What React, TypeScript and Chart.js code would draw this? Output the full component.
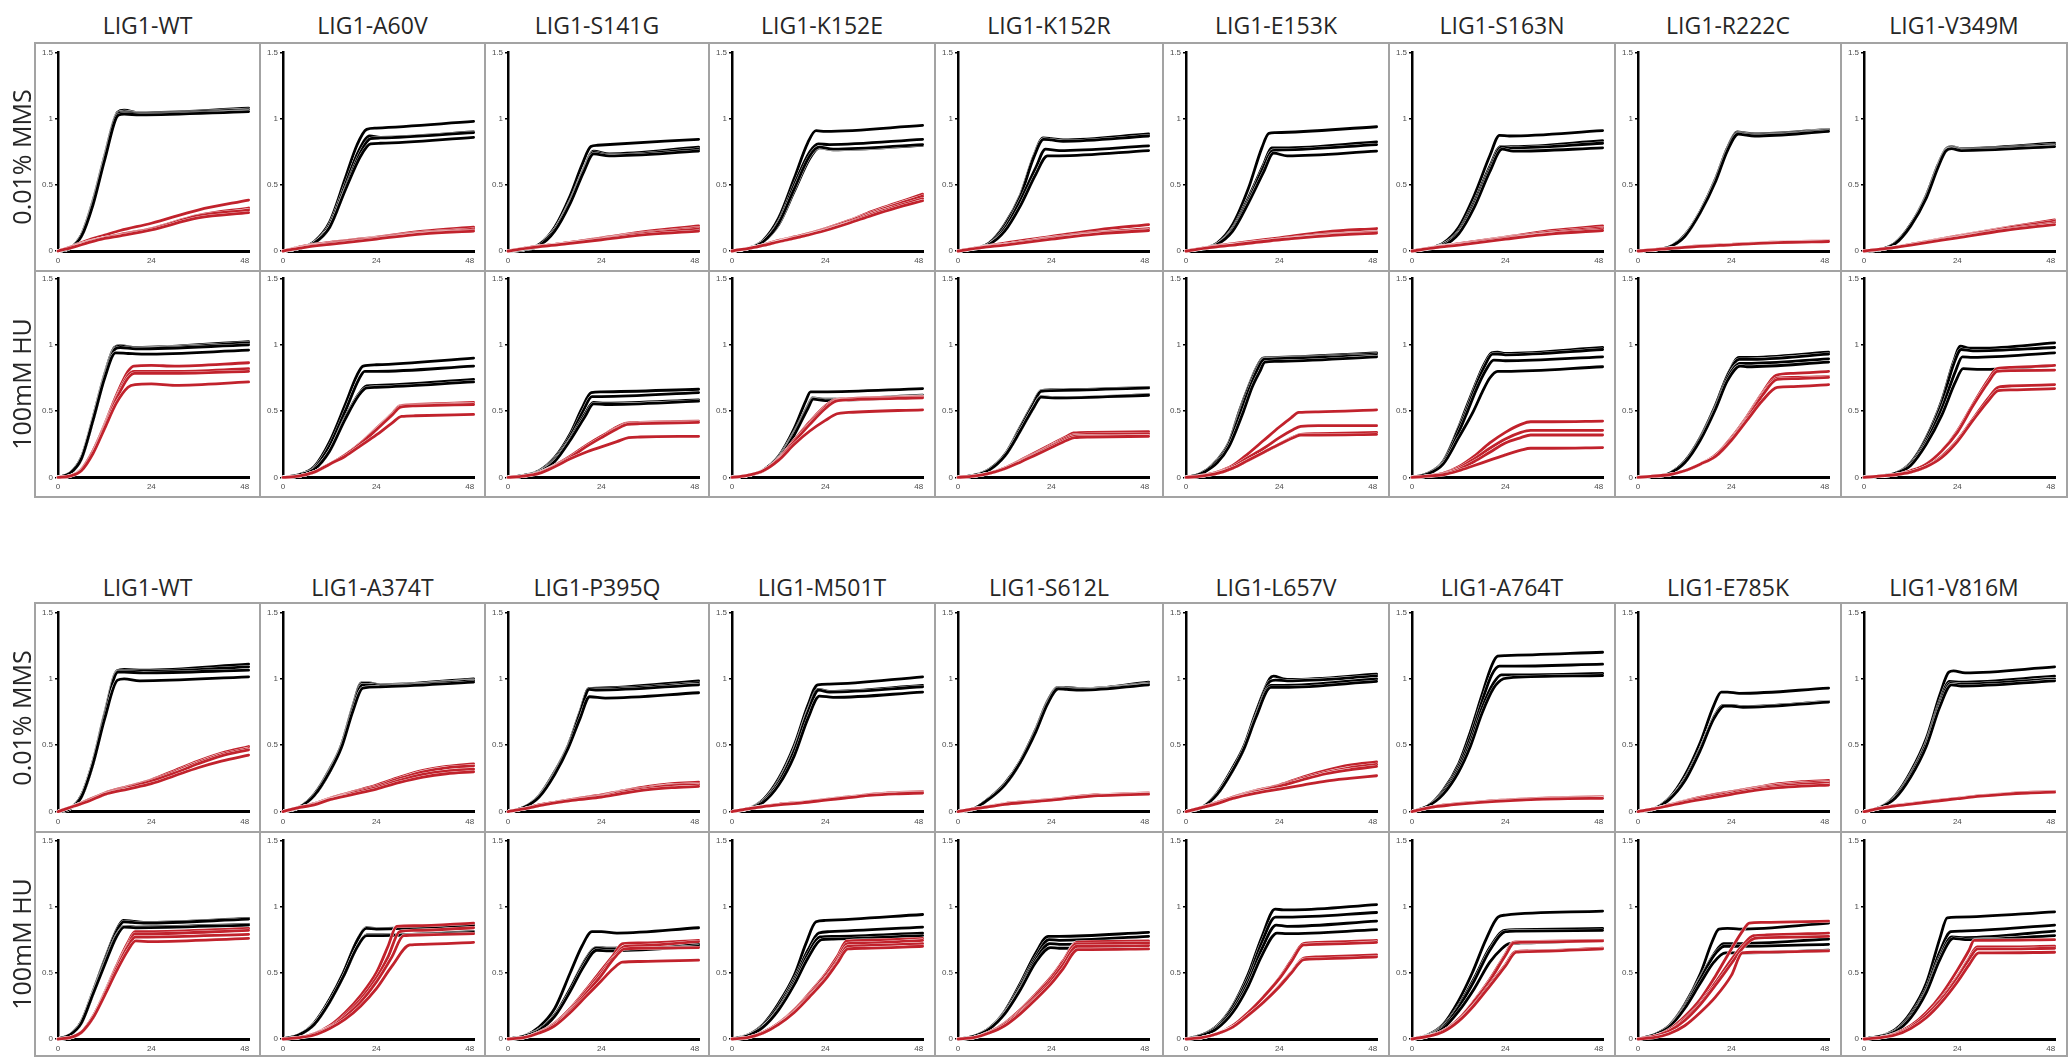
import React, { useEffect, useRef } from "react";
import { Chart, registerables } from "chart.js";

Chart.register(...registerables);

// ---------- axis / label data ----------
const X_TICKS = [0, 24, 48];
const Y_TICKS = [0, 0.5, 1, 1.5];
const X_MAX = 49.1;
const Y_MAX = 1.5;
const ROW_LABELS = ["0.01% MMS", "100mM HU"];
const TITLES_A = ["LIG1-WT", "LIG1-A60V", "LIG1-S141G", "LIG1-K152E", "LIG1-K152R", "LIG1-E153K", "LIG1-S163N", "LIG1-R222C", "LIG1-V349M"];
const TITLES_B = ["LIG1-WT", "LIG1-A374T", "LIG1-P395Q", "LIG1-M501T", "LIG1-S612L", "LIG1-L657V", "LIG1-A764T", "LIG1-E785K", "LIG1-V816M"];

// Each curve: flat list of (hour, OD) knots.
// ---------- Block A, 0.01% MMS ----------
const WT1_MMS_BLACK = [
  [0, 0, 3, .02, 6, .12, 9, .38, 12, .72, 15.3, 1.05, 17, 1.065, 21, 1.045, 49, 1.08],
  [0, 0, 3, .02, 6, .12, 9, .37, 12, .71, 15.4, 1.045, 17, 1.055, 21, 1.04, 49, 1.07],
  [0, 0, 3, .02, 6, .11, 9, .36, 12, .7, 15.5, 1.04, 17, 1.045, 21, 1.035, 49, 1.06],
  [0, 0, 3, .02, 6, .11, 9, .35, 12, .69, 15.6, 1.03, 17, 1.035, 21, 1.03, 49, 1.055],
];
const WT1_MMS_RED = [
  [0, 0, 4, .04, 8, .085, 12, .12, 16, .155, 24, .21, 36, .31, 49, .385],
  [0, 0, 4, .035, 8, .075, 12, .1, 16, .125, 24, .17, 36, .27, 49, .325],
  [0, 0, 4, .035, 8, .07, 12, .1, 16, .12, 24, .165, 36, .265, 49, .31],
  [0, 0, 4, .03, 8, .065, 12, .095, 16, .115, 24, .16, 36, .25, 49, .29],
];
const A60V_MMS_BLACK = [
  [0, 0, 4, .02, 8, .07, 12, .22, 16, .55, 19, .8, 21.5, .92, 24, .93, 49, .98],
  [0, 0, 4, .02, 8, .06, 12, .2, 16, .5, 19.5, .76, 22.3, .87, 25, .86, 49, .9],
  [0, 0, 4, .02, 8, .06, 12, .18, 16, .47, 20, .75, 22.5, .85, 25, .855, 49, .895],
  [0, 0, 4, .02, 8, .06, 12, .18, 16, .46, 20, .72, 22.5, .81, 25, .815, 49, .86],
];
const A60V_MMS_RED = [
  [0, 0, 6, .04, 12, .065, 24, .105, 36, .15, 49, .18],
  [0, 0, 6, .035, 12, .06, 24, .1, 36, .14, 49, .165],
  [0, 0, 6, .035, 12, .055, 24, .095, 36, .135, 49, .155],
  [0, 0, 6, .03, 12, .05, 24, .09, 36, .13, 49, .15],
];
const S141G_MMS_BLACK = [
  [0, 0, 4, .01, 8, .05, 12, .18, 16, .42, 19, .65, 21.3, .79, 23, .8, 49, .845],
  [0, 0, 4, .01, 8, .05, 12, .16, 16, .38, 19.5, .62, 22, .755, 26, .735, 49, .785],
  [0, 0, 4, .01, 8, .05, 12, .16, 16, .37, 19.5, .61, 22, .745, 26, .725, 49, .77],
  [0, 0, 4, .01, 8, .04, 12, .15, 16, .36, 19.5, .6, 22, .735, 26, .72, 49, .755],
];
const S141G_MMS_RED = [
  [0, 0, 6, .03, 12, .05, 24, .1, 36, .15, 49, .19],
  [0, 0, 6, .03, 12, .05, 24, .095, 36, .14, 49, .175],
  [0, 0, 6, .025, 12, .045, 24, .09, 36, .135, 49, .165],
  [0, 0, 6, .025, 12, .045, 24, .085, 36, .125, 49, .15],
];
const K152E_MMS_BLACK = [
  [0, 0, 4, .02, 8, .08, 12, .25, 16, .55, 19.5, .82, 21.6, .91, 24, .905, 49, .95],
  [0, 0, 4, .02, 8, .07, 12, .22, 16, .5, 20, .75, 22.2, .81, 25, .805, 49, .845],
  [0, 0, 4, .02, 8, .07, 12, .2, 16, .45, 20, .7, 22.5, .78, 26, .765, 49, .8],
  [0, 0, 4, .02, 8, .07, 12, .21, 16, .47, 20, .72, 22.4, .785, 26, .77, 49, .805],
];
const K152E_MMS_RED = [
  [0, 0, 6, .03, 12, .08, 18, .12, 24, .17, 30, .23, 36, .3, 42, .36, 49, .43],
  [0, 0, 6, .03, 12, .075, 18, .115, 24, .165, 30, .225, 36, .29, 42, .35, 49, .415],
  [0, 0, 6, .03, 12, .07, 18, .11, 24, .16, 30, .215, 36, .28, 42, .335, 49, .395],
  [0, 0, 6, .03, 12, .07, 18, .11, 24, .155, 30, .21, 36, .27, 42, .325, 49, .38],
];
const K152R_MMS_BLACK = [
  [0, 0, 4, .02, 8, .06, 12, .2, 16, .42, 19.5, .72, 21.9, .855, 24, .85, 27, .84, 49, .885],
  [0, 0, 4, .02, 8, .06, 12, .19, 16, .41, 19.5, .71, 22, .845, 24, .84, 27, .83, 49, .87],
  [0, 0, 4, .02, 8, .05, 12, .17, 16, .38, 20, .63, 22.5, .77, 26, .76, 49, .795],
  [0, 0, 4, .02, 8, .05, 12, .15, 16, .34, 20, .58, 23, .72, 26, .72, 49, .76],
];
const K152R_MMS_RED = [
  [0, 0, 6, .03, 12, .06, 24, .11, 36, .16, 49, .2],
  [0, 0, 6, .03, 12, .05, 24, .1, 36, .14, 49, .17],
  [0, 0, 6, .025, 12, .05, 24, .095, 36, .135, 49, .16],
  [0, 0, 6, .025, 12, .045, 24, .09, 36, .13, 49, .155],
];
const E153K_MMS_BLACK = [
  [0, 0, 4, .02, 8, .06, 12, .2, 16, .47, 19.5, .78, 21.3, .89, 23, .895, 49, .94],
  [0, 0, 4, .02, 8, .05, 12, .17, 16, .4, 20, .66, 22, .78, 25, .78, 49, .825],
  [0, 0, 4, .02, 8, .05, 12, .16, 16, .38, 20, .64, 22.2, .76, 25, .765, 49, .805],
  [0, 0, 4, .02, 8, .05, 12, .15, 16, .36, 20, .6, 22.5, .74, 26, .72, 49, .755],
];
const E153K_MMS_RED = [
  [0, 0, 6, .03, 12, .055, 24, .1, 36, .145, 49, .17],
  [0, 0, 6, .03, 12, .05, 24, .09, 36, .125, 49, .145],
  [0, 0, 6, .025, 12, .045, 24, .085, 36, .12, 49, .14],
  [0, 0, 6, .025, 12, .045, 24, .085, 36, .115, 49, .135],
];
const S163N_MMS_BLACK = [
  [0, 0, 4, .02, 8, .06, 12, .18, 16, .42, 20, .72, 22.5, .875, 25, .87, 49, .91],
  [0, 0, 4, .02, 8, .05, 12, .15, 16, .37, 20, .64, 22.8, .79, 26, .79, 49, .835],
  [0, 0, 4, .02, 8, .05, 12, .14, 16, .35, 20, .62, 23, .785, 26, .78, 49, .815],
  [0, 0, 4, .02, 8, .04, 12, .13, 16, .33, 20, .6, 23.2, .77, 26, .755, 49, .78],
];
const S163N_MMS_RED = [
  [0, 0, 6, .03, 12, .055, 24, .105, 36, .155, 49, .19],
  [0, 0, 6, .03, 12, .05, 24, .1, 36, .145, 49, .175],
  [0, 0, 6, .025, 12, .05, 24, .095, 36, .135, 49, .165],
  [0, 0, 6, .025, 12, .045, 24, .09, 36, .13, 49, .155],
];
const R222C_MMS_BLACK = [
  [0, 0, 4, .01, 8, .03, 12, .12, 16, .3, 20, .55, 23, .78, 25.6, .9, 27, .895, 30, .885, 49, .92],
  [0, 0, 4, .01, 8, .03, 12, .12, 16, .3, 20, .55, 23, .78, 25.6, .895, 27, .89, 30, .88, 49, .915],
  [0, 0, 4, .01, 8, .03, 12, .11, 16, .29, 20, .54, 23, .77, 25.7, .89, 27, .885, 30, .875, 49, .91],
  [0, 0, 4, .01, 8, .03, 12, .11, 16, .29, 20, .53, 23, .76, 25.8, .885, 27, .88, 30, .87, 49, .905],
];
const R222C_MMS_RED = [
  [0, 0, 6, .015, 12, .03, 24, .05, 36, .068, 49, .077],
  [0, 0, 6, .015, 12, .03, 24, .05, 36, .066, 49, .075],
  [0, 0, 6, .014, 12, .028, 24, .048, 36, .065, 49, .073],
  [0, 0, 6, .014, 12, .028, 24, .047, 36, .064, 49, .072],
];
const V349M_MMS_BLACK = [
  [0, 0, 4, .01, 8, .06, 12, .2, 16, .42, 19, .65, 21, .77, 22.5, .79, 25, .775, 49, .815],
  [0, 0, 4, .01, 8, .06, 12, .2, 16, .42, 19, .65, 21, .765, 22.5, .785, 25, .77, 49, .805],
  [0, 0, 4, .01, 8, .055, 12, .19, 16, .41, 19, .64, 21, .76, 22.5, .78, 25, .765, 49, .795],
  [0, 0, 4, .01, 8, .055, 12, .19, 16, .4, 19, .63, 21, .755, 22.5, .775, 25, .76, 49, .79],
];
const V349M_MMS_RED = [
  [0, 0, 6, .02, 12, .05, 24, .115, 36, .175, 49, .235],
  [0, 0, 6, .02, 12, .05, 24, .11, 36, .17, 49, .225],
  [0, 0, 6, .02, 12, .05, 24, .105, 36, .16, 49, .21],
  [0, 0, 6, .02, 12, .045, 24, .1, 36, .155, 49, .2],
];

// ---------- Block A, 100mM HU ----------
const WT1_HU_BLACK = [
  [0, 0, 3, .03, 6, .15, 9, .45, 12, .78, 14.5, .98, 16, .995, 20, .98, 49, 1.025],
  [0, 0, 3, .03, 6, .15, 9, .44, 12, .77, 14.6, .975, 16, .99, 20, .975, 49, 1.015],
  [0, 0, 3, .03, 6, .14, 9, .43, 12, .76, 14.7, .97, 16, .98, 20, .97, 49, 1.0],
  [0, 0, 3, .03, 6, .14, 9, .43, 12, .75, 14.8, .94, 18, .935, 22, .93, 49, .96],
];
const WT1_HU_RED = [
  [0, 0, 3, .01, 6, .06, 9, .2, 12, .4, 15, .62, 18, .8, 19.5, .84, 24, .845, 30, .84, 49, .865],
  [0, 0, 3, .01, 6, .06, 9, .2, 12, .39, 15, .6, 18, .77, 19.6, .8, 24, .8, 30, .8, 49, .82],
  [0, 0, 3, .01, 6, .055, 9, .19, 12, .38, 15, .59, 18, .75, 19.7, .785, 24, .785, 30, .785, 49, .8],
  [0, 0, 3, .01, 6, .05, 9, .18, 12, .37, 15, .56, 18, .68, 19.8, .7, 24, .705, 30, .695, 49, .72],
];
const A60V_HU_BLACK = [
  [0, 0, 4, .02, 8, .08, 12, .27, 16, .55, 19, .77, 20.6, .84, 24, .85, 49, .9],
  [0, 0, 4, .02, 8, .07, 12, .24, 16, .5, 19.5, .74, 21, .8, 24, .8, 49, .84],
  [0, 0, 4, .02, 8, .06, 12, .2, 16, .45, 19.5, .63, 21.5, .69, 24, .695, 49, .74],
  [0, 0, 4, .02, 8, .06, 12, .2, 16, .44, 19.5, .62, 21.5, .675, 24, .68, 49, .72],
];
const A60V_HU_RED = [
  [0, 0, 4, .01, 8, .04, 12, .1, 16, .17, 20, .26, 24, .37, 28, .48, 30, .54, 34, .55, 49, .565],
  [0, 0, 4, .01, 8, .04, 12, .1, 16, .17, 20, .26, 24, .365, 28, .475, 30, .535, 34, .545, 49, .555],
  [0, 0, 4, .01, 8, .04, 12, .1, 16, .17, 20, .255, 24, .36, 28, .47, 30.2, .53, 34, .54, 49, .55],
  [0, 0, 4, .01, 8, .04, 12, .1, 16, .16, 20, .24, 24, .32, 28, .41, 30.5, .46, 34, .465, 49, .475],
];
const S141G_HU_BLACK = [
  [0, 0, 4, .015, 8, .05, 12, .15, 16, .33, 19, .52, 21.4, .64, 24, .645, 49, .665],
  [0, 0, 4, .015, 8, .045, 12, .14, 16, .31, 19.3, .5, 21.6, .61, 24, .61, 49, .64],
  [0, 0, 4, .015, 8, .04, 12, .13, 16, .29, 19.6, .47, 22, .565, 25, .56, 49, .585],
  [0, 0, 4, .015, 8, .04, 12, .12, 16, .28, 19.8, .46, 22, .555, 25, .55, 49, .575],
];
const S141G_HU_RED = [
  [0, 0, 4, .01, 8, .035, 12, .09, 16, .16, 20, .24, 24, .31, 28, .38, 30.5, .41, 34, .415, 49, .425],
  [0, 0, 4, .01, 8, .035, 12, .09, 16, .16, 20, .24, 24, .31, 28, .37, 30.6, .405, 34, .41, 49, .42],
  [0, 0, 4, .01, 8, .035, 12, .085, 16, .15, 20, .23, 24, .3, 28, .365, 30.7, .4, 34, .405, 49, .415],
  [0, 0, 4, .01, 8, .03, 12, .08, 16, .14, 20, .19, 24, .23, 28, .27, 31, .3, 34, .305, 49, .31],
];
const K152E_HU_BLACK = [
  [0, 0, 4, .015, 8, .055, 12, .16, 16, .37, 19, .58, 20.2, .645, 23, .645, 49, .67],
  [0, 0, 4, .015, 8, .05, 12, .15, 16, .34, 19.5, .54, 20.7, .6, 24, .59, 49, .62],
  [0, 0, 4, .015, 8, .05, 12, .14, 16, .33, 19.5, .53, 20.8, .595, 24, .585, 49, .615],
  [0, 0, 4, .015, 8, .05, 12, .14, 16, .32, 19.5, .52, 20.9, .59, 24, .58, 49, .61],
];
const K152E_HU_RED = [
  [0, 0, 4, .015, 8, .05, 12, .14, 16, .28, 20, .42, 24, .54, 26.5, .585, 30, .595, 49, .61],
  [0, 0, 4, .015, 8, .05, 12, .14, 16, .28, 20, .41, 24, .53, 26.6, .58, 30, .59, 49, .605],
  [0, 0, 4, .015, 8, .05, 12, .135, 16, .27, 20, .4, 24, .52, 26.7, .575, 30, .585, 49, .6],
  [0, 0, 4, .015, 8, .05, 12, .13, 16, .25, 20, .35, 24, .43, 27, .48, 30, .49, 49, .51],
];
const K152R_HU_BLACK = [
  [0, 0, 4, .015, 8, .06, 12, .17, 16, .38, 19.5, .57, 21.3, .655, 24, .66, 49, .68],
  [0, 0, 4, .015, 8, .06, 12, .17, 16, .37, 19.5, .56, 21.3, .65, 24, .655, 49, .675],
  [0, 0, 4, .015, 8, .055, 12, .16, 16, .35, 19.5, .53, 21.3, .61, 25, .6, 49, .625],
  [0, 0, 4, .015, 8, .055, 12, .16, 16, .35, 19.5, .53, 21.4, .605, 25, .6, 49, .62],
];
const K152R_HU_RED = [
  [0, 0, 4, .01, 8, .03, 12, .07, 16, .13, 20, .19, 24, .25, 28, .31, 29.7, .335, 34, .34, 49, .345],
  [0, 0, 4, .01, 8, .03, 12, .07, 16, .125, 20, .18, 24, .24, 28, .3, 29.8, .32, 34, .325, 49, .33],
  [0, 0, 4, .01, 8, .03, 12, .065, 16, .12, 20, .175, 24, .235, 28, .29, 29.8, .31, 34, .31, 49, .315],
  [0, 0, 4, .01, 8, .03, 12, .065, 16, .115, 20, .17, 24, .225, 28, .28, 29.9, .3, 34, .305, 49, .31],
];
const E153K_HU_BLACK = [
  [0, 0, 3, .02, 5, .05, 8, .13, 11, .26, 13.7, .5, 16, .68, 18, .82, 19.8, .9, 22, .905, 49, .94],
  [0, 0, 3, .02, 5, .05, 8, .13, 11, .26, 13.8, .49, 16, .67, 18, .81, 19.9, .895, 22, .9, 49, .93],
  [0, 0, 3, .02, 5, .05, 8, .12, 11, .25, 14, .49, 16.3, .67, 18.3, .81, 20, .89, 22, .895, 49, .92],
  [0, 0, 3, .02, 5, .045, 8, .11, 11, .23, 14.8, .5, 17, .68, 19, .8, 20.3, .87, 23, .875, 49, .91],
];
const E153K_HU_RED = [
  [0, 0, 4, .015, 8, .04, 12, .09, 16, .18, 20, .28, 24, .38, 27, .45, 29, .49, 34, .495, 49, .51],
  [0, 0, 4, .01, 8, .035, 12, .08, 16, .15, 20, .22, 24, .3, 27.5, .36, 29.5, .385, 34, .39, 49, .39],
  [0, 0, 4, .01, 8, .03, 12, .07, 16, .13, 20, .19, 24, .25, 28, .31, 29.5, .325, 34, .33, 49, .34],
  [0, 0, 4, .01, 8, .03, 12, .07, 16, .13, 20, .19, 24, .25, 28, .305, 29.5, .32, 34, .32, 49, .325],
];
const S163N_HU_BLACK = [
  [0, 0, 4, .03, 8, .12, 12, .38, 13.6, .5, 16, .68, 18.5, .85, 20.5, .94, 22, .945, 24, .935, 49, .98],
  [0, 0, 4, .03, 8, .12, 12, .37, 13.8, .49, 16, .66, 18.5, .83, 20.7, .93, 22, .93, 24, .925, 49, .965],
  [0, 0, 4, .03, 8, .11, 12, .34, 14.3, .5, 16.5, .66, 19, .81, 21, .885, 24, .88, 49, .91],
  [0, 0, 4, .025, 8, .1, 12, .3, 15.8, .5, 18, .64, 20, .75, 22, .8, 24, .8, 49, .835],
];
const S163N_HU_RED = [
  [0, 0, 4, .01, 8, .03, 12, .08, 16, .16, 20, .26, 24, .34, 28, .4, 30.5, .42, 36, .42, 49, .425],
  [0, 0, 4, .01, 8, .03, 12, .07, 16, .14, 20, .22, 24, .29, 28, .34, 30.5, .355, 36, .355, 49, .355],
  [0, 0, 4, .01, 8, .025, 12, .06, 16, .12, 20, .19, 24, .26, 28, .3, 30.5, .32, 36, .32, 49, .32],
  [0, 0, 4, .01, 8, .02, 12, .05, 16, .09, 20, .13, 24, .17, 28, .205, 30.5, .22, 36, .22, 49, .225],
];
const R222C_HU_BLACK = [
  [0, 0, 4, .01, 8, .03, 12, .12, 16, .3, 20, .55, 23, .77, 26, .905, 28, .905, 49, .945],
  [0, 0, 4, .01, 8, .03, 12, .12, 16, .3, 20, .55, 23, .77, 26, .89, 28, .89, 49, .93],
  [0, 0, 4, .01, 8, .03, 12, .11, 16, .29, 20, .53, 23, .75, 26.2, .86, 28, .86, 49, .895],
  [0, 0, 4, .01, 8, .03, 12, .11, 16, .28, 20, .52, 23, .73, 26.3, .84, 28, .835, 49, .87],
];
const R222C_HU_RED = [
  [0, 0, 4, .01, 8, .02, 12, .05, 16, .1, 20, .17, 24, .3, 28, .46, 32, .64, 35.5, .77, 40, .785, 49, .8],
  [0, 0, 4, .01, 8, .02, 12, .05, 16, .1, 20, .17, 24, .29, 28, .45, 32, .63, 35.8, .75, 40, .755, 49, .76],
  [0, 0, 4, .01, 8, .02, 12, .05, 16, .1, 20, .16, 24, .28, 28, .44, 32, .62, 35.8, .74, 40, .745, 49, .755],
  [0, 0, 4, .01, 8, .02, 12, .05, 16, .1, 20, .16, 24, .28, 28, .43, 32, .58, 35.8, .68, 40, .685, 49, .7],
];
const V349M_HU_BLACK = [
  [0, 0, 4, .01, 8, .03, 12, .11, 16, .3, 20, .58, 23, .87, 24.8, .99, 27, .975, 30, .975, 49, 1.015],
  [0, 0, 4, .01, 8, .03, 12, .11, 16, .29, 20, .56, 23, .85, 25, .965, 28, .955, 49, .98],
  [0, 0, 4, .01, 8, .03, 12, .1, 16, .27, 20, .52, 23.5, .8, 25.3, .91, 28, .905, 49, .94],
  [0, 0, 4, .01, 8, .03, 12, .09, 16, .25, 20, .47, 23.5, .72, 25.5, .82, 30, .815, 49, .845],
];
const V349M_HU_RED = [
  [0, 0, 4, .01, 8, .02, 12, .05, 16, .1, 20, .2, 24, .35, 28, .55, 32, .74, 34.2, .82, 38, .83, 49, .845],
  [0, 0, 4, .01, 8, .02, 12, .05, 16, .1, 20, .2, 24, .34, 28, .54, 32, .72, 34.2, .8, 38, .805, 49, .81],
  [0, 0, 4, .01, 8, .02, 12, .04, 16, .08, 20, .16, 24, .28, 28, .44, 32, .6, 34.5, .68, 38, .69, 49, .7],
  [0, 0, 4, .01, 8, .02, 12, .04, 16, .08, 20, .15, 24, .27, 28, .43, 32, .58, 34.5, .655, 38, .66, 49, .67],
];

// ---------- Block B, 0.01% MMS ----------
const WT2_MMS_BLACK = [
  [0, 0, 3, .02, 6, .12, 9, .38, 12, .74, 15.2, 1.06, 17, 1.07, 22, 1.065, 49, 1.11],
  [0, 0, 3, .02, 6, .12, 9, .37, 12, .73, 15.3, 1.055, 17, 1.06, 22, 1.055, 49, 1.09],
  [0, 0, 3, .02, 6, .11, 9, .36, 12, .72, 15.4, 1.05, 17, 1.05, 22, 1.045, 49, 1.065],
  [0, 0, 3, .02, 6, .11, 9, .36, 12, .7, 15.3, .99, 17, 1.0, 21, .985, 49, 1.015],
];
const WT2_MMS_RED = [
  [0, 0, 4, .04, 8, .09, 12, .14, 18, .19, 24, .24, 30, .31, 36, .38, 42, .44, 49, .49],
  [0, 0, 4, .04, 8, .09, 12, .135, 18, .185, 24, .235, 30, .3, 36, .37, 42, .43, 49, .475],
  [0, 0, 4, .04, 8, .085, 12, .13, 18, .18, 24, .23, 30, .29, 36, .36, 42, .42, 49, .465],
  [0, 0, 4, .04, 8, .08, 12, .13, 18, .17, 24, .21, 30, .27, 36, .33, 42, .38, 49, .425],
];
const A374T_MMS_BLACK = [
  [0, 0, 4, .03, 8, .13, 12, .32, 15, .5, 18, .8, 20.2, .97, 22, .97, 25, .955, 49, 1.0],
  [0, 0, 4, .03, 8, .13, 12, .31, 15, .5, 18, .79, 20.3, .965, 22, .965, 25, .95, 49, .99],
  [0, 0, 4, .03, 8, .12, 12, .3, 15, .49, 18, .78, 20.4, .955, 22, .955, 25, .945, 49, .985],
  [0, 0, 4, .03, 8, .12, 12, .3, 15, .48, 18, .76, 20.5, .93, 25, .94, 49, .975],
];
const A374T_MMS_RED = [
  [0, 0, 4, .03, 8, .06, 12, .1, 18, .15, 24, .2, 30, .26, 36, .31, 42, .34, 49, .36],
  [0, 0, 4, .03, 8, .055, 12, .095, 18, .145, 24, .19, 30, .25, 36, .3, 42, .33, 49, .345],
  [0, 0, 4, .03, 8, .055, 12, .09, 18, .14, 24, .18, 30, .235, 36, .28, 42, .305, 49, .32],
  [0, 0, 4, .03, 8, .05, 12, .09, 18, .13, 24, .17, 30, .22, 36, .26, 42, .285, 49, .3],
];
const P395Q_MMS_BLACK = [
  [0, 0, 4, .03, 8, .12, 12, .3, 15.5, .5, 18.5, .75, 20.8, .925, 23, .93, 49, .985],
  [0, 0, 4, .03, 8, .12, 12, .3, 15.5, .5, 18.5, .75, 20.8, .925, 23, .925, 49, .965],
  [0, 0, 4, .03, 8, .115, 12, .29, 15.5, .49, 18.5, .74, 20.9, .92, 23, .915, 49, .955],
  [0, 0, 4, .03, 8, .11, 12, .28, 15.5, .48, 18.5, .7, 21, .865, 25, .855, 49, .895],
];
const P395Q_MMS_RED = [
  [0, 0, 4, .02, 8, .05, 12, .07, 18, .1, 24, .125, 30, .16, 36, .19, 42, .21, 49, .222],
  [0, 0, 4, .02, 8, .05, 12, .07, 18, .095, 24, .12, 30, .155, 36, .18, 42, .2, 49, .21],
  [0, 0, 4, .02, 8, .045, 12, .065, 18, .09, 24, .115, 30, .15, 36, .175, 42, .195, 49, .2],
  [0, 0, 4, .02, 8, .045, 12, .065, 18, .09, 24, .11, 30, .14, 36, .165, 42, .18, 49, .19],
];
const M501T_MMS_BLACK = [
  [0, 0, 4, .02, 8, .09, 12, .25, 16, .5, 19.5, .8, 22, .955, 25, .96, 49, 1.015],
  [0, 0, 4, .02, 8, .08, 12, .23, 16, .47, 19.5, .76, 22.2, .92, 25, .905, 49, .95],
  [0, 0, 4, .02, 8, .08, 12, .22, 16, .46, 19.5, .75, 22.3, .915, 25, .9, 49, .94],
  [0, 0, 4, .02, 8, .07, 12, .2, 16, .42, 19.5, .7, 22.5, .87, 26, .86, 49, .9],
];
const M501T_MMS_RED = [
  [0, 0, 4, .02, 8, .04, 12, .055, 18, .072, 24, .092, 30, .112, 36, .132, 42, .143, 49, .15],
  [0, 0, 4, .02, 8, .04, 12, .055, 18, .07, 24, .09, 30, .11, 36, .13, 42, .14, 49, .145],
  [0, 0, 4, .02, 8, .038, 12, .052, 18, .068, 24, .088, 30, .108, 36, .127, 42, .137, 49, .142],
  [0, 0, 4, .02, 8, .037, 12, .05, 18, .066, 24, .086, 30, .105, 36, .124, 42, .134, 49, .14],
];
const S612L_MMS_BLACK = [
  [0, 0, 4, .02, 8, .1, 12, .21, 16, .38, 20, .62, 23, .83, 25.7, .935, 28, .935, 32, .925, 49, .975],
  [0, 0, 4, .02, 8, .1, 12, .21, 16, .38, 20, .62, 23, .83, 25.7, .93, 28, .93, 32, .92, 49, .965],
  [0, 0, 4, .02, 8, .095, 12, .2, 16, .37, 20, .61, 23, .82, 25.8, .93, 28, .925, 32, .92, 49, .96],
  [0, 0, 4, .02, 8, .095, 12, .2, 16, .37, 20, .6, 23, .81, 25.8, .925, 28, .92, 32, .915, 49, .955],
];
const S612L_MMS_RED = [
  [0, 0, 4, .02, 8, .04, 12, .06, 18, .077, 24, .092, 30, .112, 36, .127, 42, .133, 49, .14],
  [0, 0, 4, .02, 8, .04, 12, .06, 18, .075, 24, .09, 30, .11, 36, .125, 42, .13, 49, .137],
  [0, 0, 4, .02, 8, .038, 12, .057, 18, .073, 24, .088, 30, .107, 36, .122, 42, .128, 49, .134],
  [0, 0, 4, .02, 8, .037, 12, .055, 18, .071, 24, .086, 30, .105, 36, .12, 42, .126, 49, .131],
];
const L657V_MMS_BLACK = [
  [0, 0, 4, .03, 8, .14, 12, .33, 15, .5, 18, .75, 21.5, 1.0, 22.5, 1.02, 25, 1.0, 27, .995, 49, 1.035],
  [0, 0, 4, .03, 8, .14, 12, .33, 15, .5, 18, .75, 21.6, .98, 23, .99, 26, .985, 49, 1.02],
  [0, 0, 4, .03, 8, .13, 12, .31, 15, .48, 18, .72, 21.8, .95, 25, .95, 49, 1.0],
  [0, 0, 4, .03, 8, .13, 12, .31, 15, .48, 18, .71, 21.8, .935, 25, .935, 49, .98],
];
const L657V_MMS_RED = [
  [0, 0, 4, .03, 8, .07, 12, .11, 18, .16, 24, .2, 30, .26, 36, .31, 42, .35, 49, .375],
  [0, 0, 4, .03, 8, .07, 12, .105, 18, .155, 24, .195, 30, .25, 36, .295, 42, .33, 49, .355],
  [0, 0, 4, .03, 8, .065, 12, .1, 18, .15, 24, .19, 30, .24, 36, .285, 42, .315, 49, .34],
  [0, 0, 4, .03, 8, .06, 12, .1, 18, .14, 24, .17, 30, .2, 36, .23, 42, .25, 49, .27],
];
const A764T_MMS_BLACK = [
  [0, 0, 4, .04, 8, .16, 12, .36, 15, .6, 18, .88, 20.5, 1.1, 22, 1.17, 24, 1.175, 49, 1.2],
  [0, 0, 4, .04, 8, .15, 12, .34, 15, .56, 18, .83, 20.5, 1.03, 22.5, 1.095, 25, 1.095, 49, 1.11],
  [0, 0, 4, .04, 8, .14, 12, .32, 15, .52, 18, .78, 21, .97, 23, 1.03, 26, 1.03, 49, 1.04],
  [0, 0, 4, .04, 8, .13, 12, .3, 15, .49, 18, .74, 21, .93, 23.5, 1.0, 26, 1.01, 49, 1.025],
];
const A764T_MMS_RED = [
  [0, 0, 3, .02, 6, .04, 10, .055, 16, .07, 24, .088, 32, .1, 40, .107, 49, .112],
  [0, 0, 3, .02, 6, .04, 10, .055, 16, .07, 24, .085, 32, .098, 40, .104, 49, .108],
  [0, 0, 3, .02, 6, .038, 10, .052, 16, .067, 24, .083, 32, .095, 40, .101, 49, .104],
  [0, 0, 3, .02, 6, .037, 10, .05, 16, .065, 24, .08, 32, .092, 40, .098, 49, .1],
];
const E785K_MMS_BLACK = [
  [0, 0, 4, .02, 8, .1, 12, .27, 16, .52, 19.5, .8, 21.4, .9, 23, .9, 26, .89, 49, .93],
  [0, 0, 4, .02, 8, .09, 12, .24, 16, .47, 19.5, .71, 22, .8, 24, .8, 27, .79, 49, .83],
  [0, 0, 4, .02, 8, .09, 12, .24, 16, .47, 19.5, .71, 22, .8, 24, .8, 27, .79, 49, .828],
  [0, 0, 4, .02, 8, .09, 12, .23, 16, .46, 19.5, .7, 22.2, .795, 24, .795, 27, .785, 49, .825],
];
const E785K_MMS_RED = [
  [0, 0, 4, .02, 8, .05, 12, .08, 18, .12, 24, .15, 30, .18, 36, .21, 42, .225, 49, .235],
  [0, 0, 4, .02, 8, .05, 12, .078, 18, .115, 24, .145, 30, .175, 36, .2, 42, .215, 49, .225],
  [0, 0, 4, .02, 8, .048, 12, .075, 18, .11, 24, .14, 30, .17, 36, .19, 42, .205, 49, .215],
  [0, 0, 4, .02, 8, .045, 12, .07, 18, .1, 24, .13, 30, .16, 36, .18, 42, .192, 49, .2],
];
const V816M_MMS_BLACK = [
  [0, 0, 4, .03, 8, .12, 12, .3, 16, .55, 19.5, .88, 21.8, 1.05, 23, 1.06, 26, 1.045, 49, 1.09],
  [0, 0, 4, .03, 8, .11, 12, .28, 16, .52, 19.5, .83, 22, .98, 25, .975, 49, 1.02],
  [0, 0, 4, .03, 8, .11, 12, .27, 16, .51, 19.5, .81, 22.2, .965, 25, .96, 49, 1.0],
  [0, 0, 4, .03, 8, .1, 12, .26, 16, .49, 19.5, .79, 22.5, .955, 25, .945, 49, .985],
];
const V816M_MMS_RED = [
  [0, 0, 4, .025, 8, .045, 12, .06, 18, .08, 24, .1, 30, .12, 36, .135, 42, .145, 49, .152],
  [0, 0, 4, .025, 8, .045, 12, .06, 18, .08, 24, .1, 30, .12, 36, .134, 42, .144, 49, .15],
  [0, 0, 4, .024, 8, .044, 12, .058, 18, .078, 24, .098, 30, .118, 36, .132, 42, .142, 49, .148],
  [0, 0, 4, .024, 8, .043, 12, .057, 18, .077, 24, .097, 30, .116, 36, .13, 42, .14, 49, .146],
];

// ---------- Block B, 100mM HU ----------
const WT2_HU_BLACK = [
  [0, 0, 3, .03, 6, .13, 9, .36, 12, .6, 15, .82, 16.8, .895, 19, .89, 22, .88, 49, .91],
  [0, 0, 3, .03, 6, .13, 9, .35, 12, .59, 15, .81, 16.9, .885, 19, .88, 22, .875, 49, .905],
  [0, 0, 3, .03, 6, .12, 9, .34, 12, .57, 15, .78, 17, .85, 20, .845, 49, .865],
  [0, 0, 3, .03, 6, .12, 9, .34, 12, .56, 15, .77, 17, .845, 20, .84, 49, .86],
];
const WT2_HU_RED = [
  [0, 0, 3, .01, 6, .05, 9, .17, 12, .35, 15, .55, 18, .73, 19.8, .81, 23, .81, 49, .835],
  [0, 0, 3, .01, 6, .05, 9, .17, 12, .34, 15, .54, 18, .71, 19.8, .795, 23, .795, 49, .82],
  [0, 0, 3, .01, 6, .05, 9, .16, 12, .34, 15, .53, 18, .7, 19.9, .77, 23, .77, 49, .79],
  [0, 0, 3, .01, 6, .05, 9, .16, 12, .33, 15, .51, 18, .67, 20, .74, 24, .735, 49, .76],
];
const A374T_HU_BLACK = [
  [0, 0, 4, .03, 8, .12, 12, .3, 15.5, .5, 19, .74, 21.4, .84, 24, .835, 49, .865],
  [0, 0, 4, .03, 8, .12, 12, .3, 15.5, .5, 19, .74, 21.4, .835, 24, .83, 49, .86],
  [0, 0, 4, .03, 8, .11, 12, .28, 15.5, .47, 19, .69, 21.5, .785, 24, .785, 49, .81],
  [0, 0, 4, .03, 8, .11, 12, .28, 15.5, .47, 19, .69, 21.5, .78, 24, .78, 49, .805],
];
const A374T_HU_RED = [
  [0, 0, 4, .01, 8, .04, 12, .1, 16, .2, 20, .33, 24, .5, 27, .7, 29.2, .85, 34, .855, 49, .875],
  [0, 0, 4, .01, 8, .04, 12, .09, 16, .18, 20, .3, 24, .46, 27, .62, 30, .81, 34, .82, 49, .84],
  [0, 0, 4, .01, 8, .035, 12, .085, 16, .17, 20, .28, 24, .43, 28, .62, 31, .78, 35, .785, 49, .795],
  [0, 0, 4, .01, 8, .03, 12, .08, 16, .15, 20, .25, 24, .38, 28, .55, 32.6, .71, 36, .715, 49, .73],
];
const P395Q_HU_BLACK = [
  [0, 0, 4, .02, 8, .09, 12, .23, 16, .5, 19, .7, 21.6, .81, 24, .81, 28, .8, 49, .84],
  [0, 0, 4, .02, 8, .07, 12, .18, 16, .38, 19.5, .58, 22.7, .69, 26, .685, 49, .72],
  [0, 0, 4, .02, 8, .07, 12, .18, 16, .38, 19.5, .57, 22.7, .685, 26, .68, 49, .715],
  [0, 0, 4, .02, 8, .065, 12, .17, 16, .36, 19.5, .55, 22.8, .67, 26, .665, 49, .7],
];
const P395Q_HU_RED = [
  [0, 0, 4, .01, 8, .05, 12, .12, 16, .23, 20, .37, 24, .52, 27, .63, 29.5, .72, 34, .725, 49, .745],
  [0, 0, 4, .01, 8, .05, 12, .115, 16, .22, 20, .36, 24, .5, 27, .61, 30, .7, 34, .705, 49, .735],
  [0, 0, 4, .01, 8, .045, 12, .11, 16, .21, 20, .34, 24, .48, 27, .6, 30, .68, 34, .685, 49, .69],
  [0, 0, 4, .01, 8, .045, 12, .1, 16, .2, 20, .32, 24, .44, 27, .53, 29.4, .58, 34, .585, 49, .595],
];
const M501T_HU_BLACK = [
  [0, 0, 4, .03, 8, .11, 12, .27, 16, .48, 19, .72, 21.6, .885, 24, .895, 49, .94],
  [0, 0, 4, .03, 8, .1, 12, .25, 16, .45, 19.5, .67, 22.3, .8, 25, .81, 49, .845],
  [0, 0, 4, .025, 8, .09, 12, .23, 16, .43, 19.5, .64, 22.6, .77, 26, .775, 49, .8],
  [0, 0, 4, .025, 8, .09, 12, .22, 16, .41, 19.5, .61, 23, .75, 26, .755, 49, .78],
];
const M501T_HU_RED = [
  [0, 0, 4, .01, 8, .05, 12, .12, 16, .22, 20, .35, 24, .49, 27, .62, 29.5, .74, 34, .745, 49, .76],
  [0, 0, 4, .01, 8, .05, 12, .115, 16, .215, 20, .34, 24, .48, 27, .6, 29.6, .72, 34, .725, 49, .745],
  [0, 0, 4, .01, 8, .045, 12, .11, 16, .205, 20, .33, 24, .46, 27, .58, 29.7, .7, 34, .705, 49, .72],
  [0, 0, 4, .01, 8, .045, 12, .11, 16, .2, 20, .32, 24, .45, 27, .57, 29.8, .68, 34, .685, 49, .7],
];
const S612L_HU_BLACK = [
  [0, 0, 4, .02, 8, .08, 12, .21, 16, .42, 20, .65, 23.2, .775, 26, .775, 49, .805],
  [0, 0, 4, .02, 8, .08, 12, .2, 16, .4, 20, .62, 23.4, .75, 26, .745, 49, .775],
  [0, 0, 4, .02, 8, .075, 12, .19, 16, .38, 20, .6, 23.6, .72, 26, .715, 49, .73],
  [0, 0, 4, .02, 8, .075, 12, .19, 16, .37, 20, .58, 23.8, .69, 26, .685, 49, .71],
];
const S612L_HU_RED = [
  [0, 0, 4, .01, 8, .05, 12, .12, 16, .22, 20, .34, 24, .47, 27, .59, 30.4, .73, 34, .735, 49, .74],
  [0, 0, 4, .01, 8, .05, 12, .115, 16, .21, 20, .33, 24, .46, 27, .58, 30.5, .72, 34, .72, 49, .725],
  [0, 0, 4, .01, 8, .045, 12, .11, 16, .2, 20, .31, 24, .44, 27, .56, 30.6, .7, 34, .7, 49, .705],
  [0, 0, 4, .01, 8, .045, 12, .1, 16, .19, 20, .3, 24, .42, 27, .53, 30.8, .675, 34, .675, 49, .68],
];
const L657V_HU_BLACK = [
  [0, 0, 4, .03, 8, .1, 12, .25, 16, .49, 19.5, .77, 22.9, .98, 25, .975, 28, .975, 49, 1.015],
  [0, 0, 4, .03, 8, .09, 12, .24, 16, .46, 19.5, .73, 23, .92, 26, .92, 49, .955],
  [0, 0, 4, .03, 8, .09, 12, .22, 16, .43, 19.5, .68, 23.2, .86, 26, .85, 49, .89],
  [0, 0, 4, .025, 8, .08, 12, .2, 16, .4, 19.5, .63, 23.4, .8, 26, .795, 49, .825],
];
const L657V_HU_RED = [
  [0, 0, 4, .01, 8, .04, 12, .1, 16, .2, 20, .32, 24, .46, 27, .59, 30.2, .72, 34, .73, 49, .745],
  [0, 0, 4, .01, 8, .04, 12, .1, 16, .2, 20, .32, 24, .455, 27, .58, 30.2, .71, 34, .715, 49, .73],
  [0, 0, 4, .01, 8, .04, 12, .09, 16, .18, 20, .28, 24, .4, 27, .5, 30.3, .61, 34, .62, 49, .635],
  [0, 0, 4, .01, 8, .04, 12, .09, 16, .18, 20, .28, 24, .395, 27, .495, 30.3, .6, 34, .605, 49, .62],
];
const A764T_HU_BLACK = [
  [0, 0, 4, .03, 8, .11, 12, .29, 15.5, .5, 19, .75, 22.1, .92, 24, .935, 49, .965],
  [0, 0, 4, .025, 8, .1, 12, .25, 16, .46, 20, .69, 23.8, .82, 27, .825, 49, .835],
  [0, 0, 4, .025, 8, .09, 12, .24, 16, .44, 20, .67, 24, .81, 27, .815, 49, .82],
  [0, 0, 4, .02, 8, .08, 12, .21, 16, .38, 20, .58, 23, .68, 25, .72, 28, .725, 49, .745],
];
const A764T_HU_RED = [
  [0, 0, 4, .02, 8, .06, 12, .15, 16, .29, 20, .45, 24, .64, 26, .73, 28, .735, 49, .745],
  [0, 0, 4, .02, 8, .06, 12, .15, 16, .285, 20, .44, 24, .63, 26.2, .725, 28, .73, 49, .74],
  [0, 0, 4, .02, 8, .06, 12, .14, 16, .26, 20, .41, 24, .56, 26.6, .66, 30, .665, 49, .685],
  [0, 0, 4, .02, 8, .055, 12, .135, 16, .255, 20, .4, 24, .55, 26.8, .655, 30, .66, 49, .68],
];
const E785K_HU_BLACK = [
  [0, 0, 4, .03, 8, .1, 12, .26, 16, .49, 19, .73, 20.8, .83, 23, .835, 26, .83, 49, .875],
  [0, 0, 4, .03, 8, .1, 12, .25, 16, .46, 19.5, .64, 22, .72, 25, .72, 49, .755],
  [0, 0, 4, .03, 8, .095, 12, .24, 16, .45, 19.5, .63, 22.2, .7, 25, .7, 49, .715],
  [0, 0, 4, .03, 8, .09, 12, .23, 16, .42, 19.5, .58, 22.5, .65, 25, .65, 49, .67],
];
const E785K_HU_RED = [
  [0, 0, 4, .02, 8, .07, 12, .17, 16, .3, 20, .48, 24, .68, 27, .82, 28.6, .875, 32, .88, 49, .89],
  [0, 0, 4, .02, 8, .06, 12, .15, 16, .27, 20, .43, 24, .6, 27, .71, 29.7, .78, 33, .785, 49, .8],
  [0, 0, 4, .02, 8, .06, 12, .14, 16, .26, 20, .41, 24, .57, 27, .69, 30, .76, 33, .765, 49, .775],
  [0, 0, 4, .01, 8, .04, 12, .1, 16, .2, 20, .32, 24, .48, 26.8, .65, 30, .655, 49, .665],
];
const V816M_HU_BLACK = [
  [0, 0, 4, .02, 8, .07, 12, .2, 16, .42, 19.5, .76, 21.4, .915, 24, .92, 49, .96],
  [0, 0, 4, .02, 8, .06, 12, .18, 16, .38, 19.5, .66, 22.3, .81, 25, .815, 49, .86],
  [0, 0, 4, .02, 8, .06, 12, .17, 16, .36, 19.5, .62, 22.6, .77, 26, .765, 49, .815],
  [0, 0, 4, .02, 8, .055, 12, .16, 16, .35, 19.5, .6, 23, .76, 26, .75, 49, .78],
];
const V816M_HU_RED = [
  [0, 0, 4, .01, 8, .04, 12, .1, 16, .2, 20, .34, 24, .52, 27, .67, 28.3, .745, 32, .745, 49, .75],
  [0, 0, 4, .01, 8, .035, 12, .09, 16, .18, 20, .31, 24, .47, 27, .61, 29.1, .695, 33, .695, 49, .7],
  [0, 0, 4, .01, 8, .035, 12, .09, 16, .18, 20, .3, 24, .46, 27, .6, 29.2, .68, 33, .68, 49, .685],
  [0, 0, 4, .01, 8, .03, 12, .08, 16, .16, 20, .28, 24, .43, 27, .56, 29.5, .65, 33, .65, 49, .655],
];

// ---------- panel grids ----------
const BLOCK_A_MMS = [
  [WT1_MMS_BLACK, WT1_MMS_RED], [A60V_MMS_BLACK, A60V_MMS_RED], [S141G_MMS_BLACK, S141G_MMS_RED],
  [K152E_MMS_BLACK, K152E_MMS_RED], [K152R_MMS_BLACK, K152R_MMS_RED], [E153K_MMS_BLACK, E153K_MMS_RED],
  [S163N_MMS_BLACK, S163N_MMS_RED], [R222C_MMS_BLACK, R222C_MMS_RED], [V349M_MMS_BLACK, V349M_MMS_RED],
];
const BLOCK_A_HU = [
  [WT1_HU_BLACK, WT1_HU_RED], [A60V_HU_BLACK, A60V_HU_RED], [S141G_HU_BLACK, S141G_HU_RED],
  [K152E_HU_BLACK, K152E_HU_RED], [K152R_HU_BLACK, K152R_HU_RED], [E153K_HU_BLACK, E153K_HU_RED],
  [S163N_HU_BLACK, S163N_HU_RED], [R222C_HU_BLACK, R222C_HU_RED], [V349M_HU_BLACK, V349M_HU_RED],
];
const BLOCK_B_MMS = [
  [WT2_MMS_BLACK, WT2_MMS_RED], [A374T_MMS_BLACK, A374T_MMS_RED], [P395Q_MMS_BLACK, P395Q_MMS_RED],
  [M501T_MMS_BLACK, M501T_MMS_RED], [S612L_MMS_BLACK, S612L_MMS_RED], [L657V_MMS_BLACK, L657V_MMS_RED],
  [A764T_MMS_BLACK, A764T_MMS_RED], [E785K_MMS_BLACK, E785K_MMS_RED], [V816M_MMS_BLACK, V816M_MMS_RED],
];
const BLOCK_B_HU = [
  [WT2_HU_BLACK, WT2_HU_RED], [A374T_HU_BLACK, A374T_HU_RED], [P395Q_HU_BLACK, P395Q_HU_RED],
  [M501T_HU_BLACK, M501T_HU_RED], [S612L_HU_BLACK, S612L_HU_RED], [L657V_HU_BLACK, L657V_HU_RED],
  [A764T_HU_BLACK, A764T_HU_RED], [E785K_HU_BLACK, E785K_HU_RED], [V816M_HU_BLACK, V816M_HU_RED],
];

// ---------- styling / layout ----------
const BLACK = "#000000";
const RED = "#c1222c";
const FRAME = "#a3a3a3";
const TITLE_FONT = "'Open Sans', 'Noto Sans', sans-serif";
const TICK_FONT = "'Liberation Sans', Arial, sans-serif";
const COL_LEFTS = [35, 259.5, 485, 709, 935, 1163, 1388.5, 1614.5, 1841, 2066.5];
const AXIS_INSET = 23;
const PLOT_RIGHT = 214;

type RowGeom = { top: number; height: number; plotTop: number; plotBottom: number };
const ROWS: RowGeom[] = [
  { top: 43, height: 228, plotTop: 9.7, plotBottom: 208 },
  { top: 271, height: 226, plotTop: 7.6, plotBottom: 206.4 },
  { top: 603, height: 229, plotTop: 9.4, plotBottom: 208.6 },
  { top: 832, height: 224, plotTop: 8.3, plotBottom: 207 },
];

function toPoints(c: number[]) {
  const pts: { x: number; y: number }[] = [];
  for (let i = 0; i < c.length; i += 2) pts.push({ x: c[i], y: c[i + 1] });
  return pts;
}

function Panel(props: { black: number[][]; red: number[][]; left: number; width: number; row: RowGeom }) {
  const { black, red, left, width, row } = props;
  const ref = useRef<HTMLCanvasElement | null>(null);
  useEffect(() => {
    if (!ref.current) return;
    const curves: [number[], string][] = [
      ...black.map((c) => [c, BLACK] as [number[], string]),
      ...red.map((c) => [c, RED] as [number[], string]),
    ];
    const total = curves.length * 2;
    const datasets: any[] = [];
    let k = 0;
    const common = {
      pointRadius: 0,
      fill: false,
      cubicInterpolationMode: "monotone",
      borderCapStyle: "round",
      borderJoinStyle: "round",
      clip: 4,
    };
    curves.forEach(([c, col]) => {
      const data = toPoints(c);
      datasets.push({ ...common, data, borderColor: "#ffffff", borderWidth: 3.4, order: total - k++ });
      datasets.push({ ...common, data, borderColor: col, borderWidth: 2.8, order: total - k++ });
    });
    const tickFont = { size: 8, family: TICK_FONT };
    const chart = new Chart(ref.current, {
      type: "line",
      data: { datasets },
      options: {
        animation: false,
        responsive: false,
        maintainAspectRatio: false,
        devicePixelRatio: 1,
        events: [],
        parsing: false,
        layout: { padding: { top: row.plotTop, right: width - PLOT_RIGHT, left: 0, bottom: 0 } },
        plugins: { legend: { display: false }, tooltip: { enabled: false }, title: { display: false } },
        scales: {
          x: {
            type: "linear",
            min: 0,
            max: X_MAX,
            afterBuildTicks: (s: any) => { s.ticks = X_TICKS.map((v) => ({ value: v })); },
            afterFit: (s: any) => { s.height = row.height - row.plotBottom; },
            grid: { display: false, drawTicks: false },
            border: { display: true, color: "#000", width: 3 },
            ticks: { color: "#4d4d4d", font: tickFont, padding: 5, maxRotation: 0, autoSkip: false, callback: (v: any) => String(v) },
          },
          y: {
            type: "linear",
            min: 0,
            max: Y_MAX,
            afterBuildTicks: (s: any) => { s.ticks = Y_TICKS.map((v) => ({ value: v })); },
            afterFit: (s: any) => { s.width = AXIS_INSET; },
            grid: { display: true, drawOnChartArea: false, drawTicks: true, tickLength: 3, color: "#000", lineWidth: 1.5 },
            border: { display: true, color: "#000", width: 2.5 },
            ticks: { color: "#4d4d4d", font: tickFont, padding: 2, callback: (v: any) => String(v) },
          },
        },
      } as any,
    });
    return () => chart.destroy();
  }, []);
  return (
    <canvas
      ref={ref}
      width={width}
      height={row.height}
      style={{ position: "absolute", left, top: row.top, width, height: row.height }}
    />
  );
}

function Block(props: { titles: string[]; titleY: number; rows: RowGeom[]; grids: number[][][][][] }) {
  const { titles, titleY, rows, grids } = props;
  const els: any[] = [];
  titles.forEach((t, i) => {
    const l = Math.round(COL_LEFTS[i]);
    const w = Math.round(COL_LEFTS[i + 1]) - l;
    els.push(
      <div key={"t" + i} style={{ position: "absolute", left: l, width: w, top: titleY - 17, height: 34, lineHeight: "34px", textAlign: "center", fontFamily: TITLE_FONT, fontSize: 23, color: "#262626", whiteSpace: "nowrap" }}>{t}</div>
    );
  });
  rows.forEach((row, r) => {
    grids[r].forEach((pair, i) => {
      const l = Math.round(COL_LEFTS[i]);
      const w = Math.round(COL_LEFTS[i + 1]) - l;
      els.push(<Panel key={"p" + r + "-" + i} black={pair[0]} red={pair[1]} left={l} width={w} row={row} />);
    });
    els.push(
      <div key={"rl" + r} style={{ position: "absolute", left: 21 - 150, top: row.top + row.height / 2 - 18, width: 300, height: 36, lineHeight: "36px", textAlign: "center", fontFamily: TITLE_FONT, fontSize: 25, color: "#262626", transform: "rotate(-90deg)", whiteSpace: "nowrap" }}>{ROW_LABELS[r]}</div>
    );
  });
  const top = rows[0].top;
  const bottom = rows[rows.length - 1].top + rows[rows.length - 1].height;
  COL_LEFTS.forEach((x, i) => {
    els.push(<div key={"v" + i} style={{ position: "absolute", left: Math.round(x) - 1, top: top - 1, width: 2, height: bottom - top + 2, background: FRAME }} />);
  });
  const hs = [top, ...rows.slice(1).map((r) => r.top), bottom];
  hs.forEach((y, i) => {
    els.push(<div key={"h" + i} style={{ position: "absolute", left: COL_LEFTS[0] - 1, top: y - 1, width: Math.round(COL_LEFTS[9]) - COL_LEFTS[0] + 2, height: 2, background: FRAME }} />);
  });
  return <>{els}</>;
}

export default function App() {
  return (
    <div style={{ position: "absolute", left: 0, top: 0, width: 2068, height: 1057, overflow: "hidden", background: "#ffffff" }}>
      <Block titles={TITLES_A} titleY={25} rows={[ROWS[0], ROWS[1]]} grids={[BLOCK_A_MMS, BLOCK_A_HU]} />
      <Block titles={TITLES_B} titleY={587} rows={[ROWS[2], ROWS[3]]} grids={[BLOCK_B_MMS, BLOCK_B_HU]} />
    </div>
  );
}
